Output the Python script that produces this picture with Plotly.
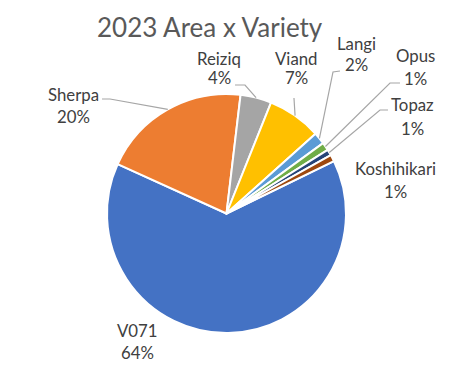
import math
import plotly.graph_objects as go

# ---- data ----
varieties = ["V071", "Sherpa", "Reiziq", "Viand", "Langi", "Opus", "Topaz", "Koshihikari"]
area_share = [64.0, 20.1, 4.2, 7.3, 1.6, 1.1, 0.8, 0.9]
colors = ["#4472C4", "#ED7D31", "#A5A5A5", "#FFC000", "#5B9BD5", "#70AD47", "#264478", "#9E480E"]
title_text = "2023 Area x Variety"

# ---- layout geometry (page pixels; page body has an 8px margin) ----
OFF = 8
W, H = 451 - OFF, 376 - OFF
PX0, PX1, PY0, PY1 = 107, 346, 94, 333  # pie box in page pixels
ML, MT = PX0 - OFF, PY0 - OFF
MR, MB = W - (PX1 - OFF), H - (PY1 - OFF)
PW, PH = PX1 - PX0, PY1 - PY0
CX, CY = (PX0 + PX1) / 2, (PY0 + PY1) / 2
R = min(PW, PH) / 2
ROT = 64  # first slice starts at this angle (clockwise from 12 o'clock)


def px(x):
    return (x - PX0) / PW


def py(y):
    return 1 - (y - PY0) / PH


# label placement (page pixels: name centre x, name y, percent y, leader elbow points)
label_pos = {
    "V071": dict(x=137, y1=330, y2=352, path=None),
    "Sherpa": dict(x=73, y1=94, y2=116, path=[(102, 99), (110, 99)]),
    "Reiziq": dict(x=219, y1=58, y2=77, path=[(235, 85), (245, 85)]),
    "Viand": dict(x=296, y1=58, y2=77, path=[(294, 98)]),
    "Langi": dict(x=356, y1=43, y2=65, path=[(340, 71), (333, 72)]),
    "Opus": dict(x=415, y1=56, y2=78, path=[(400, 83), (390, 83)]),
    "Topaz": dict(x=412, y1=105, y2=128, path=[(388, 110), (380, 110)]),
    "Koshihikari": dict(x=395, y1=168, y2=191, path=None),
}

fig = go.Figure(go.Pie(
    labels=varieties,
    values=area_share,
    sort=False,
    direction="clockwise",
    rotation=ROT,
    marker=dict(colors=colors, line=dict(color="white", width=2)),
    textinfo="none",
    hoverinfo="label+percent",
    showlegend=False,
))

total = sum(area_share)
annotations = []
shapes = []
cum = 0.0
font = dict(family="Lato, Open Sans, sans-serif", size=16.8, color="#404040")
for name, v in zip(varieties, area_share):
    mid = ROT + (cum + v / 2) / total * 360
    cum += v
    pct = round(v / total * 100)
    lp = label_pos[name]
    annotations.append(dict(x=px(lp["x"]), y=py(lp["y1"]), xref="paper", yref="paper",
                            text=name, showarrow=False, font=font,
                            xanchor="center", yanchor="middle"))
    annotations.append(dict(x=px(lp["x"]), y=py(lp["y2"]), xref="paper", yref="paper",
                            text=f"{pct}%", showarrow=False, font=font,
                            xanchor="center", yanchor="middle"))
    if lp["path"]:
        a = math.radians(mid)
        ex = CX + R * math.sin(a)
        ey = CY - R * math.cos(a)
        pts = lp["path"] + [(ex, ey)]
        d = "M " + " L ".join(f"{px(x):.4f},{py(y):.4f}" for x, y in pts)
        shapes.append(dict(type="path", path=d, xref="paper", yref="paper",
                           line=dict(color="#A6A6A6", width=1.2)))

annotations.append(dict(x=px(210), y=py(27), xref="paper", yref="paper", text=title_text,
                        showarrow=False, xanchor="center", yanchor="middle",
                        font=dict(family="Lato, Open Sans, sans-serif", size=26, color="#595959")))

fig.update_layout(
    width=W, height=H,
    margin=dict(l=ML, r=MR, t=MT, b=MB),
    paper_bgcolor="white", plot_bgcolor="white",
    annotations=annotations,
    shapes=shapes,
)

fig.write_html("out.html")
